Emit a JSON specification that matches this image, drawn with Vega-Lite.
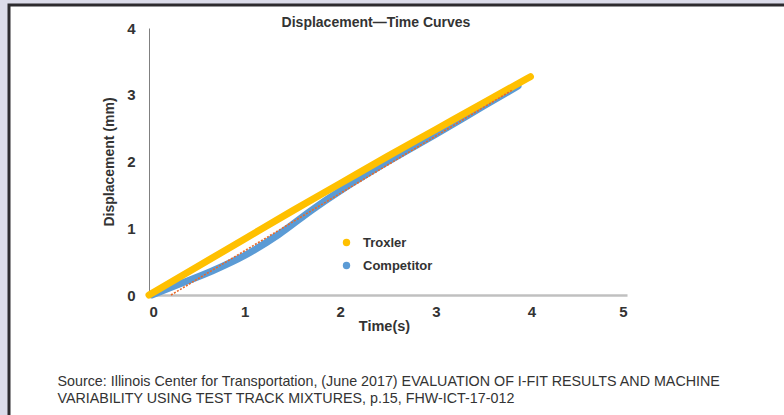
{
  "$schema": "https://vega.github.io/schema/vega-lite/v6.json",
  "autosize": "none",
  "width": 781,
  "height": 416,
  "padding": {"left": 9, "top": 5, "right": -6, "bottom": -6},
  "background": "#dcdcea",
  "config": {
    "view": {"fill": "white", "stroke": "#2d2b2f", "strokeWidth": 3},
    "font": "Liberation Sans, Arial, sans-serif"
  },
  "title": {
    "text": "Displacement—Time Curves",
    "anchor": "middle",
    "frame": "group",
    "dx": -23.5,
    "dy": 15,
    "offset": -21,
    "baseline": "alphabetic",
    "fontSize": 14,
    "fontWeight": "bold",
    "color": "#333333"
  },
  "datasets": {
    "troxler": [
      {"series": "Troxler", "time": 0, "disp": 0},
      {"series": "Troxler", "time": 0.5, "disp": 0.42},
      {"series": "Troxler", "time": 1, "disp": 0.84},
      {"series": "Troxler", "time": 1.5, "disp": 1.26},
      {"series": "Troxler", "time": 2, "disp": 1.67},
      {"series": "Troxler", "time": 2.5, "disp": 2.08},
      {"series": "Troxler", "time": 3, "disp": 2.48},
      {"series": "Troxler", "time": 3.5, "disp": 2.88},
      {"series": "Troxler", "time": 3.99, "disp": 3.27}
    ],
    "competitor": [
      {"series": "Competitor", "time": 0.03, "disp": 0},
      {"series": "Competitor", "time": 0.32, "disp": 0.165},
      {"series": "Competitor", "time": 0.66, "disp": 0.36},
      {"series": "Competitor", "time": 1.01, "disp": 0.6},
      {"series": "Competitor", "time": 1.36, "disp": 0.91},
      {"series": "Competitor", "time": 1.71, "disp": 1.28},
      {"series": "Competitor", "time": 2.02, "disp": 1.58},
      {"series": "Competitor", "time": 2.5, "disp": 2.0},
      {"series": "Competitor", "time": 3.0, "disp": 2.41},
      {"series": "Competitor", "time": 3.5, "disp": 2.83},
      {"series": "Competitor", "time": 3.86, "disp": 3.13}
    ],
    "trend": [
      {"time": 0.23, "disp": 0},
      {"time": 3.8, "disp": 3.07}
    ]
  },
  "layer": [
    {
      "data": {"name": "competitor"},
      "mark": {"type": "line", "strokeWidth": 7, "strokeCap": "round", "strokeJoin": "round", "interpolate": "monotone"},
      "encoding": {
        "x": {
          "field": "time", "type": "quantitative",
          "scale": {"domain": [0, 5], "range": [140, 618], "nice": false, "zero": false},
          "axis": {
            "orient": "top", "offset": 0, "domain": false, "ticks": false, "labels": false, "grid": false,
            "title": ["Source: Illinois Center for Transportation, (June 2017) EVALUATION OF I-FIT RESULTS AND MACHINE", "VARIABILITY  USING TEST TRACK MIXTURES, p.15, FHW-ICT-17-012"],
            "titleAngle": 0, "titleAlign": "left", "titleBaseline": "alphabetic", "titleX": 48, "titleY": 380.7,
            "titleFontSize": 14.3, "titleFontWeight": "normal", "titleColor": "#333333", "titleLineHeight": 17
          }
        },
        "y": {
          "field": "disp", "type": "quantitative",
          "scale": {"domain": [0, 4], "range": [290, 23], "nice": false, "zero": false},
          "axis": {
            "orient": "left", "offset": -140, "values": [0, 1, 2, 3, 4], "format": "d", "ticks": false, "grid": false,
            "domainColor": "#808080", "domainWidth": 1,
            "labelFontSize": 15, "labelFontWeight": "bold", "labelColor": "#333333", "labelPadding": 14,
            "title": "Displacement (mm)", "titleFontSize": 14, "titleFontWeight": "bold", "titleColor": "#333333", "titlePadding": 10
          }
        },
        "color": {
          "field": "series", "type": "nominal",
          "scale": {"domain": ["Troxler", "Competitor"], "range": ["#FFC000", "#5B9BD5"]},
          "legend": {
            "orient": "none", "legendX": 331, "legendY": 231, "title": null,
            "symbolType": "circle", "symbolSize": 55, "symbolStrokeWidth": 0,
            "labelFontSize": 13, "labelFontWeight": "bold", "labelColor": "#333333", "labelOffset": 10, "rowPadding": 9,
            "encode": {"symbols": {"update": {"fill": {"scale": "color", "field": "value"}, "strokeWidth": {"value": 0}}}}
          }
        }
      }
    },
    {
      "data": {"name": "troxler"},
      "mark": {"type": "line", "strokeWidth": 7, "strokeCap": "round", "strokeJoin": "round", "interpolate": "monotone"},
      "encoding": {
        "x": {
          "field": "time", "type": "quantitative",
          "scale": {"domain": [0, 5], "range": [140, 618], "nice": false, "zero": false},
          "axis": {
            "orient": "bottom", "offset": -126, "values": [0, 1, 2, 3, 4, 5], "format": "d", "ticks": false, "grid": false,
            "domainColor": "#c0c0c0", "domainWidth": 2.5,
            "labelFontSize": 15, "labelFontWeight": "bold", "labelColor": "#333333", "labelPadding": 9,
            "title": "Time(s)", "titleFontSize": 14.5, "titleFontWeight": "bold", "titleColor": "#333333", "titlePadding": 0, "titleX": 375
          }
        },
        "y": {"field": "disp", "type": "quantitative", "scale": {"domain": [0, 4], "range": [290, 23], "nice": false, "zero": false}},
        "color": {"field": "series", "type": "nominal"}
      }
    },
    {
      "data": {"name": "trend"},
      "mark": {"type": "line", "color": "#E8692A", "strokeWidth": 1.6, "strokeDash": [2, 1.5]},
      "encoding": {
        "x": {"field": "time", "type": "quantitative", "scale": {"domain": [0, 5], "range": [140, 618], "nice": false, "zero": false}, "axis": null},
        "y": {"field": "disp", "type": "quantitative", "scale": {"domain": [0, 4], "range": [290, 23], "nice": false, "zero": false}}
      }
    }
  ],
  "resolve": {"scale": {"x": "independent"}}
}
